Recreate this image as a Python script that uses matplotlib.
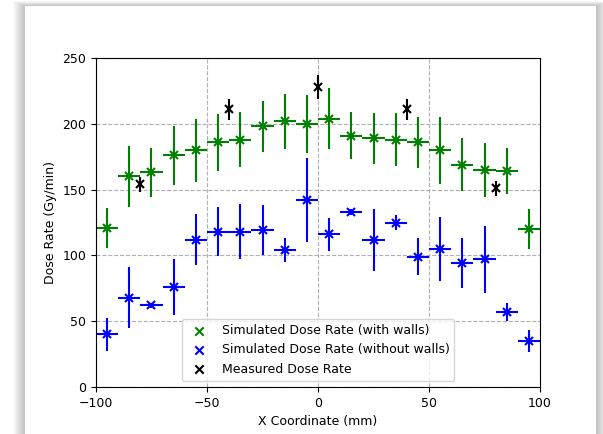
import matplotlib
matplotlib.use('Agg')
from matplotlib import pyplot as plt
from matplotlib.patches import Rectangle
import numpy as np

# positions (mm)
x_sim = [-95, -85, -75, -65, -55, -45, -35, -25, -15, -5,
         5, 15, 25, 35, 45, 55, 65, 75, 85, 95]
x_meas = [-80, -40, 0, 40, 80]

# simulated dose rate with walls
with_walls = [121, 160, 163, 176, 180, 186, 188, 198, 202, 200,
              204, 191, 189, 188, 186, 180, 169, 165, 164, 120]
with_walls_err = [15, 23, 18.5, 22.5, 24, 21.5, 21, 19.5, 21, 22,
                  23, 18, 19.5, 20, 19.5, 25.5, 20, 20.5, 17.5, 15]

# simulated dose rate without walls
no_walls = [40, 68, 62, 76, 112, 118, 118, 119, 104, 142,
            116, 133, 112, 125, 99, 105, 94, 97, 57, 35]
no_walls_err = [12.5, 23, 2, 21, 19.5, 18.5, 21, 19, 9, 32,
                12.5, 2.5, 23.5, 6, 14, 24.5, 19, 25.5, 7, 8.5]

# measured
measured = [154, 211, 228, 211, 151]
measured_err = [5.5, 8, 9, 8, 5.5]

x_half = 5

fig = plt.figure(figsize=(6.03, 4.34), dpi=100, facecolor='white')

# card with soft shadow (screenshot look)
x0, x1, ytop = 25 / 603, 596 / 603, 1 - 6 / 434
for i in range(12, 0, -1):
    dx = i / 603
    dy = i / 434
    fig.patches.append(Rectangle((x0 - dx, -0.1), (x1 - x0) + 2 * dx, ytop + 0.1 + dy * 0.4,
                                 transform=fig.transFigure, facecolor='black',
                                 alpha=0.018, edgecolor='none', zorder=0))
fig.patches.append(Rectangle((x0, -0.1), x1 - x0, ytop + 0.1,
                             transform=fig.transFigure, facecolor='white',
                             edgecolor='none', zorder=1))

ax = fig.add_axes([96 / 603, 47 / 434, 444 / 603, 329 / 434])
ax.set_zorder(2)

ekw = dict(fmt='x', markersize=6, mew=1.5, elinewidth=1.5, capsize=0, linestyle='none')
ax.errorbar(x_sim, with_walls, yerr=with_walls_err, xerr=x_half, color='green', **ekw)
ax.errorbar(x_sim, no_walls, yerr=no_walls_err, xerr=x_half, color='blue', **ekw)
ax.errorbar(x_meas, measured, yerr=measured_err, color='black', **ekw)

ax.scatter([], [], marker='x', color='green', label='Simulated Dose Rate (with walls)')
ax.scatter([], [], marker='x', color='blue', label='Simulated Dose Rate (without walls)')
ax.scatter([], [], marker='x', color='black', label='Measured Dose Rate')

ax.set_xlim(-100, 100)
ax.set_ylim(0, 250)
ax.set_xticks([-100, -50, 0, 50, 100])
ax.set_yticks([0, 50, 100, 150, 200, 250])
ax.tick_params(labelsize=9)
ax.grid(True, linestyle='--', color='#b0b0b0', linewidth=0.8)
ax.set_axisbelow(True)
ax.set_xlabel('X Coordinate (mm)', fontsize=9)
ax.set_ylabel('Dose Rate (Gy/min)', fontsize=9)
ax.legend(loc='lower center', fontsize=9)

plt.savefig('out.png', dpi=100)
plt.close()
